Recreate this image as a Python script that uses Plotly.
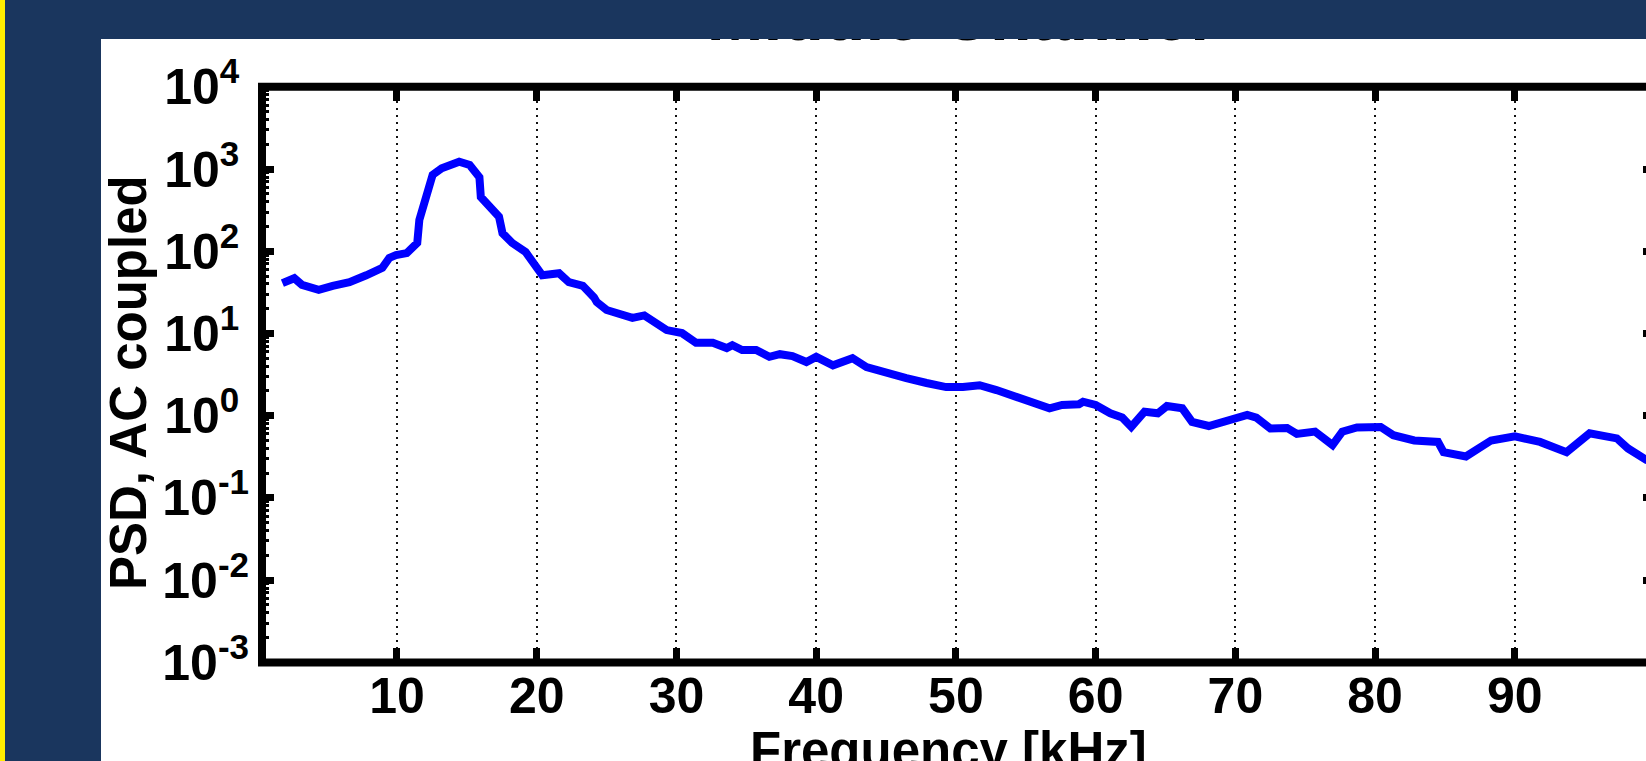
import plotly.graph_objects as go

# ---------------- data ----------------
freq_khz = [1.8, 2.65, 3.2, 4.4, 5.4, 6.6, 7.8, 8.95, 9.45, 9.93, 10.7, 11.1, 11.45,
            11.6, 11.8, 12.3, 12.55, 13.2, 14.45, 15.2, 15.9, 16.0, 16.6, 17.3, 17.55,
            18.25, 19.2, 19.95, 20.4, 21.6, 22.3, 23.05, 23.3, 24.1, 24.3, 25.0, 25.9,
            26.85, 27.7, 28.55, 29.3, 30.4, 31.4, 32.6, 33.6, 34.0, 34.7, 35.7, 36.65,
            37.4, 38.3, 39.3, 40.0, 41.2, 42.6, 43.6, 45.0, 46.45, 47.9, 49.3, 50.5,
            51.7, 52.9, 54.0, 55.3, 56.7, 57.6, 58.8, 59.1, 60.0, 61.05, 61.9, 62.55,
            63.5, 64.45, 65.1, 66.2, 66.9, 68.1, 69.5, 70.85, 71.5, 72.5, 73.7, 74.4,
            75.7, 76.95, 77.65, 78.7, 80.4, 81.3, 82.8, 84.5, 84.9, 86.5, 88.3, 90.0,
            91.8, 93.7, 95.35, 97.3, 98.1, 99.4, 100.0]
psd = [41, 47, 39, 34, 38, 42, 51, 63, 83, 90, 95, 110, 126,
       240, 316, 513, 850, 1020, 1230, 1120, 795, 457, 347, 263, 166,
       126, 98, 65, 51, 54, 42, 39, 38, 27.5, 24, 19.3, 17.8,
       15.5, 16.6, 13.8, 11, 10.1, 7.7, 7.7, 6.65, 7.2, 6.3, 6.3, 5.2,
       5.6, 5.3, 4.5, 5.2, 4.1, 5.0, 3.9, 3.3, 2.86, 2.5, 2.23, 2.23,
       2.35, 2.05, 1.78, 1.46, 1.23, 1.35, 1.38, 1.48, 1.35, 1.07, 0.95, 0.73,
       1.12, 1.07, 1.31, 1.23, 0.84, 0.75, 0.88, 1.02, 0.95, 0.70, 0.71, 0.60,
       0.64, 0.44, 0.64, 0.72, 0.73, 0.58, 0.50, 0.48, 0.36, 0.32, 0.50, 0.56,
       0.48, 0.36, 0.61, 0.53, 0.40, 0.29, 0.27]

x_tick_vals = [10, 20, 30, 40, 50, 60, 70, 80, 90, 100]
x_tick_text = ["10", "20", "30", "40", "50", "60", "70", "80", "90", "100"]
y_tick_vals = [1e-3, 1e-2, 1e-1, 1e0, 1e1, 1e2, 1e3, 1e4]
# exponents padded with a no-break space so every "10" starts at the same x
y_tick_text = ["10<sup>-3</sup>", "10<sup>-2</sup>", "10<sup>-1</sup>",
               "10<sup>0\u00a0</sup>", "10<sup>1\u00a0</sup>", "10<sup>2\u00a0</sup>",
               "10<sup>3\u00a0</sup>", "10<sup>4\u00a0</sup>"]
y_minor_vals = [m * 10.0 ** e for e in range(-3, 4) for m in range(2, 10)]
title_text = "Middle Channel"
x_title = "Frequency [kHz]"
y_title = "PSD, AC coupled"

# ---------------- layout geometry ----------------
W, H = 1680, 761
BG = "#1a365e"
FONT = "Liberation Sans, Arial, sans-serif"
CLEAR = "rgba(0,0,0,0)"

x_left, x_right = 262, 1655          # axis frame (line centres) in px
y_top, y_bot = 86.8, 662.4
xd = [x_left / W, x_right / W]
yd = [(H - y_bot) / H, (H - y_top) / H]
panel_left, panel_top = 101, 39

fig = go.Figure()

fig.add_trace(go.Scatter(
    x=freq_khz, y=psd, mode="lines",
    line=dict(color="#0000ff", width=8),
    hoverinfo="skip", showlegend=False,
))

# title, mostly hidden behind the blue banner (clipped to the white panel)
fig.add_trace(go.Scatter(
    x=[(958 - panel_left) / (W - panel_left)], y=[1 + 16 / (H - panel_top)],
    mode="text", text=[title_text],
    textposition="middle center",
    textfont=dict(family=FONT, size=68, color="black", weight="bold"),
    xaxis="x2", yaxis="y2", cliponaxis=True, hoverinfo="skip", showlegend=False,
))

xtickfont = dict(family=FONT, size=50, color="black", weight="bold")
ytickfont = dict(family=FONT, size=50, color="black", weight="bold")
titlefont = dict(family=FONT, size=51, color="black", weight="bold")

fig.update_layout(
    width=W, height=H,
    margin=dict(l=0, r=0, t=0, b=0, autoexpand=False),
    paper_bgcolor=BG, plot_bgcolor=CLEAR,
    showlegend=False,
    xaxis=dict(
        domain=xd, range=[0.34, 100.03], type="linear",
        tickmode="array", tickvals=x_tick_vals, ticktext=x_tick_text,
        ticks="inside", ticklen=14, tickwidth=7, tickcolor="black",
        mirror="ticks", showline=False, zeroline=False,
        showgrid=True, gridcolor="#111111", gridwidth=2, griddash="2px,5px",
        tickfont=xtickfont, automargin=False,
        anchor="y", fixedrange=True,
    ),
    yaxis=dict(
        domain=yd, range=[-3, 4], type="log",
        tickmode="array", tickvals=y_tick_vals, ticktext=y_tick_text,
        ticks="inside", ticklen=12, tickwidth=7, tickcolor="black",
        minor=dict(ticks="inside", ticklen=7, tickwidth=3, tickcolor="black",
                   tickmode="array", tickvals=y_minor_vals, showgrid=False),
        mirror="ticks", showline=False, zeroline=False, showgrid=False,
        tickfont=ytickfont, ticklabelstandoff=12, automargin=False,
        anchor="x", fixedrange=True,
    ),
    xaxis2=dict(domain=[panel_left / W, 1], range=[0, 1], visible=False,
                anchor="y2", fixedrange=True),
    yaxis2=dict(domain=[0, (H - panel_top) / H], range=[0, 1], visible=False,
                anchor="x2", fixedrange=True),
    annotations=[
        dict(text=x_title, xref="paper", yref="paper",
             x=948 / W, y=(H - 720) / H, xanchor="center", yanchor="top",
             showarrow=False, font=titlefont),
        dict(text=y_title, xref="paper", yref="paper", textangle=-90,
             x=128 / W, y=(H - 383) / H, xanchor="center", yanchor="middle",
             showarrow=False, font=titlefont),
    ],
    shapes=[
        dict(type="rect", xref="paper", yref="paper", x0=panel_left / W, x1=1, y0=0,
             y1=(H - panel_top) / H, fillcolor="white", line=dict(width=0), layer="below"),
        dict(type="rect", xref="paper", yref="paper", x0=0, x1=5 / W, y0=0, y1=1,
             fillcolor="#ffee00", line=dict(width=0), layer="below"),
        dict(type="rect", xref="paper", yref="paper", x0=xd[0], x1=xd[1],
             y0=yd[0], y1=yd[1], line=dict(color="black", width=8),
             fillcolor=CLEAR, layer="above"),
    ],
)

fig.write_html("out.html", config={"displayModeBar": False})
